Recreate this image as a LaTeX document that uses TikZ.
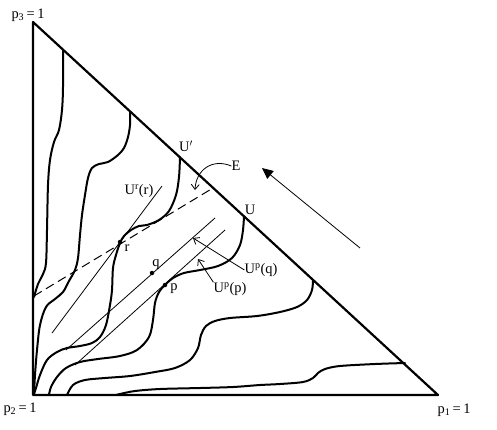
\documentclass[tikz,border=0pt]{standalone}
\usepackage{fontspec}
\setmainfont{Liberation Serif}
\usetikzlibrary{arrows.meta}
\begin{document}
\begin{tikzpicture}[x=1bp,y=-1bp,
  edge/.style={line width=2.2bp, line join=round},
  curve/.style={line width=2bp, line cap=round, line join=round},
  thinline/.style={line width=0.8bp},
  dashline/.style={line width=1bp, dash pattern=on 9bp off 5bp},
  lbl/.style={font=\fontsize{14.5}{16}\selectfont, inner sep=0pt},
  dot/.style={circle, fill, inner sep=0pt, minimum size=4.5bp},
  vtip/.style={-{Straight Barb[length=5bp,width=8bp]}, line width=0.8bp}]
\useasboundingbox (0,0) rectangle (497,429);
% triangle
\coordinate (A) at (33,22);
\coordinate (B) at (33,395);
\coordinate (C) at (438,395);
\draw[edge] (A) -- (B) -- (C) -- cycle;
% corner labels
\node[lbl] (l3) at (28,15) {p\textsubscript{3}\,=\,1};
\node[lbl] (l2) at (20,409) {p\textsubscript{2}\,=\,1};
\node[lbl] (l1) at (454,410) {p\textsubscript{1}\,=\,1};
% indifference curves
\draw[curve] plot[smooth,tension=0.55] coordinates {(63,50) (63,87) (62,110) (59,130) (54,142) (50,160) (48,185) (47,230) (46,263) (43,274) (38,284) (34,297)};
\draw[curve] plot[smooth,tension=0.55] coordinates {(130,112) (130,125) (128,137) (124,148) (118,155) (108,162) (99,164) (92,168) (88,178) (85,195) (82,215) (80,235) (78,258) (75,270) (69,281) (63,292) (55,299) (46,307) (40,325) (37,350) (35,375) (34,394)};
\draw[curve] plot[smooth,tension=0.55] coordinates {(180,157) (179,177) (176,195) (169,211) (159,220) (147,225) (139,226) (131,230) (124,236) (120,243) (116,255) (113,268) (112,290) (110,305) (106,325) (100,337) (92,343) (80,346) (67,348) (57,352) (47,360) (40,375) (36,388) (34,394)};
\draw[curve] plot[smooth,tension=0.55] coordinates {(244,216) (243,230) (240,245) (232,258) (218,266) (200,270) (184,273) (173,278) (165,285) (159,292) (155,303) (153,320) (149,337) (137,350) (120,356) (98,359) (80,362) (66,368) (57,377) (51,387) (49,395)};
\draw[curve] plot[smooth,tension=0.55] coordinates {(313,280) (312,290) (307,300) (297,307) (280,312) (257,316) (230,318) (215,321) (206,326) (201,335) (198,348) (190,360) (175,368) (155,372) (130,376) (105,378) (85,380) (73,385) (67,395)};
\draw[curve] plot[smooth,tension=0.55] coordinates {(405,363) (375,364) (340,366) (325,369) (318,373) (313,378) (303,382) (280,384) (260,385) (233,387) (200,388) (160,389) (135,391) (120,394) (116,395)};
% dashed line
\coordinate (d1) at (34,296);
\coordinate (d2) at (213,188);
\draw[dashline] (d1) -- (d2);
% tangent lines
\coordinate (r1) at (52,333);
\coordinate (r2) at (162,186);
\draw[thinline] (r1) -- (r2);
\coordinate (q1) at (66,350);
\coordinate (q2) at (215,218);
\draw[thinline] (q1) -- (q2);
\coordinate (p1) at (75,365);
\coordinate (p2) at (225,230);
\draw[thinline] (p1) -- (p2);
% points
\node[dot] (r) at (120,242) {};
\node[dot] (q) at (152,273) {};
\node[dot] (p) at (165,285) {};
% labels
\node[lbl] (Uprime) at (186,146) {U$'$};
\node[lbl] (U) at (250,210) {U};
\node[lbl] (E) at (236,166) {E};
\node[lbl] (Urr) at (139,191) {U\textsuperscript{r}(r)};
\node[lbl] (rl) at (127,248) {r};
\node[lbl] (ql) at (156,265) {q};
\node[lbl] (pl) at (174,289) {p};
\node[lbl] (Upq) at (261,270) {U\textsuperscript{p}(q)};
\node[lbl] (Upp) at (230,289) {U\textsuperscript{p}(p)};
% arrows
\coordinate (etip) at (195,190);
\draw[vtip] (E.west) .. controls (212,158) and (196,170) .. (etip);
\coordinate (qtip) at (193,238);
\draw[vtip] (Upq.west) -- (qtip);
\coordinate (ptip) at (198,259);
\draw[vtip] (Upp.north west) -- (ptip);
\coordinate (big1) at (360,248);
\coordinate (big2) at (262,168);
\draw[line width=0.8bp, -{Triangle[length=11bp,width=10bp]}] (big1) -- (big2);
\end{tikzpicture}
\end{document}
